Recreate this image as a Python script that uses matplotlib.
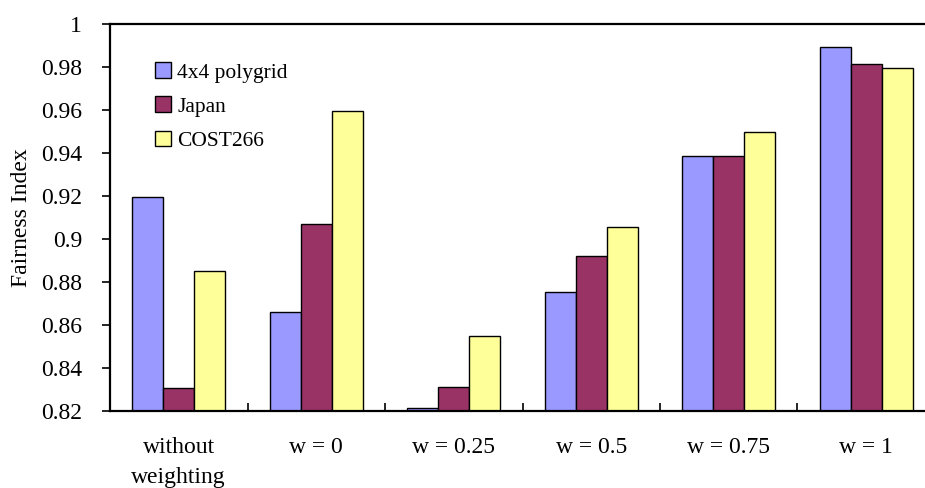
import matplotlib.pyplot as plt
import numpy as np

plt.rcParams['font.family'] = ['Liberation Serif', 'DejaVu Serif']

categories = ['without\nweighting', 'w = 0', 'w = 0.25', 'w = 0.5', 'w = 0.75', 'w = 1']
series_names = ['4x4 polygrid', 'Japan', 'COST266']
polygrid = [0.9195, 0.866, 0.8214, 0.8753, 0.9386, 0.9893]
japan = [0.8307, 0.907, 0.8312, 0.892, 0.9386, 0.9814]
cost266 = [0.8851, 0.9597, 0.8549, 0.9056, 0.9498, 0.9795]
colors = ['#9999FF', '#993366', '#FFFF99']

fig = plt.figure(figsize=(9.25, 4.88), dpi=100)
# plot area runs past the right edge of the picture, as in the original
ax = fig.add_axes([110 / 925, (488 - 411) / 488, 825 / 925, 387 / 488])

x = np.arange(len(categories))
w = 0.225
for i, (vals, name, c) in enumerate(zip([polygrid, japan, cost266], series_names, colors)):
    ax.bar(x + (i - 1) * w, np.array(vals) - 0.82, width=w, bottom=0.82,
           color=c, edgecolor='black', linewidth=1, label=name)

ax.set_xlim(-0.5, 5.5)
ax.set_ylim(0.82, 1.0)
ax.set_yticks(np.arange(0.82, 1.001, 0.02))
ax.set_yticklabels(['0.82', '0.84', '0.86', '0.88', '0.9', '0.92', '0.94', '0.96', '0.98', '1'])
ax.tick_params(axis='y', direction='out', length=6, width=1.2, labelsize=17, pad=14)

ax.set_xticks(x)
ax.set_xticklabels(categories, fontsize=17, linespacing=1.55)
ax.tick_params(axis='x', length=0, pad=19)
ax.set_xticks(np.arange(-0.5, 5.6, 1), minor=True)
ax.tick_params(axis='x', which='minor', direction='in', length=6, width=1.2)

for s in ['left', 'bottom', 'top']:
    ax.spines[s].set_linewidth(1.6)
ax.spines['right'].set_visible(False)

ax.set_ylabel('Fairness Index', fontsize=17)
ax.yaxis.set_label_coords(-78 / 825, 0.5)

leg = ax.legend(loc='upper left', bbox_to_anchor=(0.036, 0.94), frameon=False,
                fontsize=15.5, handlelength=0.75, handleheight=0.75,
                handletextpad=0.3, labelspacing=0.64, borderaxespad=0.3)

fig.savefig('out.png', dpi=100)
